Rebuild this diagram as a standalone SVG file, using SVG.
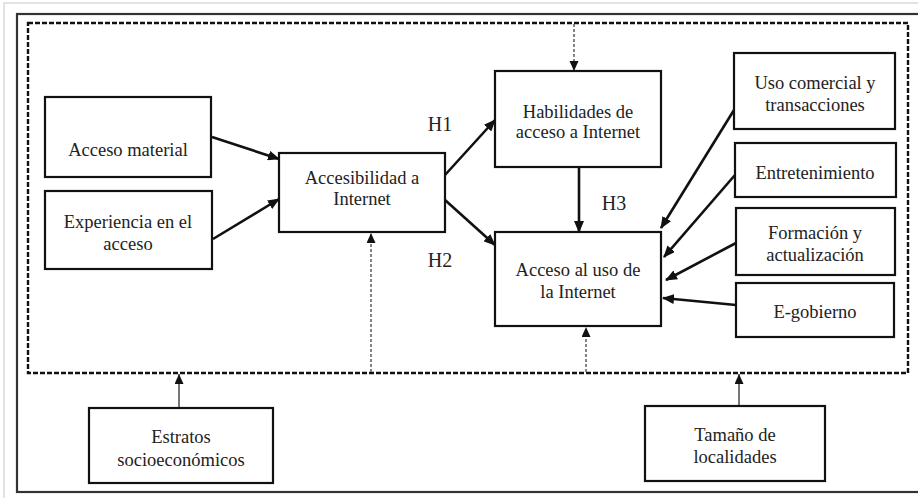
<svg xmlns="http://www.w3.org/2000/svg" width="918" height="498" viewBox="0 0 918 498">
<defs>
<marker id="ah" markerUnits="userSpaceOnUse" markerWidth="12" markerHeight="10" refX="11" refY="5" orient="auto">
<path d="M0,0 L12,5 L0,10 z" fill="#111"/>
</marker>
<marker id="ahs" markerUnits="userSpaceOnUse" markerWidth="10" markerHeight="10" refX="10" refY="4.5" orient="auto">
<path d="M0,0 L10,4.5 L0,9 z" fill="#111"/>
</marker>
<style>
.box{fill:#fff;stroke:#111;stroke-width:2.2}
.t{font-family:"Liberation Serif","Times New Roman",serif;font-size:18.5px;fill:#222;text-anchor:middle}
.h{font-family:"Liberation Serif","Times New Roman",serif;font-size:20px;fill:#222;text-anchor:middle}
.c{fill:none;stroke:#111;stroke-width:2.6}
.d{fill:none;stroke:#666;stroke-width:1.6;stroke-dasharray:3 2}
.s{fill:none;stroke:#555;stroke-width:1.6}
</style>
</defs>
<rect width="918" height="498" fill="#fff"/>
<rect x="4" y="3" width="930" height="510" fill="none" stroke="#c8c8c8" stroke-width="1"/>
<rect x="17" y="14" width="920" height="478" fill="none" stroke="#333" stroke-width="2.2"/>
<rect x="28" y="23" width="880" height="350" fill="none" stroke="#111" stroke-width="2.4" stroke-dasharray="5 2"/>

<g id="connectors">
<line class="c" x1="212" y1="137" x2="279" y2="159" marker-end="url(#ah)"/>
<line class="c" x1="213" y1="239" x2="279" y2="199" marker-end="url(#ah)"/>
<line class="c" x1="445" y1="175" x2="495" y2="120" marker-end="url(#ah)"/>
<line class="c" x1="445" y1="200" x2="495" y2="245" marker-end="url(#ah)"/>
<line class="c" x1="579" y1="167" x2="579" y2="232" marker-end="url(#ah)"/>
<line class="c" x1="734" y1="110" x2="661" y2="228" marker-end="url(#ah)"/>
<line class="c" x1="735" y1="175" x2="664" y2="257" marker-end="url(#ah)"/>
<line class="c" x1="736" y1="243" x2="666" y2="280" marker-end="url(#ah)"/>
<line class="c" x1="736" y1="305" x2="663" y2="298" marker-end="url(#ah)"/>
<line class="d" x1="574" y1="24" x2="574" y2="71" marker-end="url(#ahs)"/>
<line class="d" x1="371" y1="372" x2="371" y2="233" marker-end="url(#ahs)"/>
<line class="d" x1="586" y1="372" x2="586" y2="327" marker-end="url(#ahs)"/>
<line class="s" x1="179" y1="408" x2="179" y2="374" marker-end="url(#ahs)"/>
<line class="s" x1="739" y1="406" x2="739" y2="374" marker-end="url(#ahs)"/>
</g>

<g id="acceso-material"><rect class="box" x="45" y="97" width="166" height="80"/><text class="t" x="128" y="156">Acceso material</text></g>
<g id="experiencia"><rect class="box" x="45" y="191" width="167" height="78"/><text class="t" x="128" y="228">Experiencia en el</text><text class="t" x="128" y="250">acceso</text></g>
<g id="accesibilidad"><rect class="box" x="279" y="153" width="166" height="79"/><text class="t" x="362" y="184">Accesibilidad a</text><text class="t" x="362" y="205">Internet</text></g>
<g id="habilidades"><rect class="box" x="495" y="71" width="166" height="96"/><text class="t" x="578" y="118">Habilidades de</text><text class="t" x="578" y="138">acceso a Internet</text></g>
<g id="acceso-uso"><rect class="box" x="495" y="232" width="166" height="94"/><text class="t" x="578" y="276">Acceso al uso de</text><text class="t" x="578" y="298">la Internet</text></g>
<g id="uso-comercial"><rect class="box" x="734" y="53" width="161" height="76"/><text class="t" x="815" y="89">Uso comercial y</text><text class="t" x="815" y="111">transacciones</text></g>
<g id="entretenimiento"><rect class="box" x="735" y="143" width="161" height="54"/><text class="t" x="815" y="179">Entretenimiento</text></g>
<g id="formacion"><rect class="box" x="736" y="208" width="159" height="67"/><text class="t" x="815" y="239">Formación y</text><text class="t" x="815" y="261">actualización</text></g>
<g id="e-gobierno"><rect class="box" x="736" y="283" width="158" height="54"/><text class="t" x="815" y="318">E-gobierno</text></g>
<g id="estratos"><rect class="box" x="89" y="408" width="184" height="75"/><text class="t" x="181" y="443">Estratos</text><text class="t" x="181" y="466">socioeconómicos</text></g>
<g id="tamano"><rect class="box" x="645" y="406" width="180" height="75"/><text class="t" x="735" y="441">Tamaño de</text><text class="t" x="735" y="463">localidades</text></g>

<g id="labels">
<text class="h" x="440" y="131">H1</text>
<text class="h" x="440" y="267">H2</text>
<text class="h" x="614" y="210">H3</text>
</g>
</svg>
